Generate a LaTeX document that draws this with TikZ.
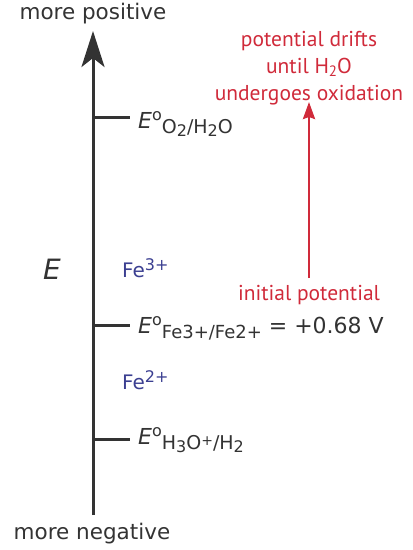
\documentclass[tikz,border=0pt]{standalone}
\usepackage{fontspec}
\setmainfont{DejaVu Sans}
\newfontfamily\redfont{PT Sans}
\usetikzlibrary{arrows.meta}
\definecolor{axisgray}{HTML}{333333}
\definecolor{labred}{HTML}{D02A3A}
\definecolor{ionblue}{HTML}{3B3F91}
\newcommand\fsz[1]{\fontsize{#1}{#1}\selectfont}
\newcommand\Eo{{\fsz{22}\itshape E}\raisebox{7.5pt}{\fsz{16}o}}
\newcommand\lowsub[2][19]{\raisebox{-5pt}{\fsz{#1}#2}}
\newcommand\ssub[1]{\raisebox{-3pt}{\fsz{16}#1}}
\newcommand\ssup[1]{\raisebox{3.5pt}{\fsz{14}#1}}
\tikzset{
  lab/.style={anchor=base west, inner sep=0pt, text=axisgray, font=\fsz{21.5}},
  ion/.style={anchor=base west, inner sep=0pt, text=ionblue, font=\fsz{20}},
  rtext/.style={inner sep=0pt, text=labred, font=\redfont\fsz{21.5}},
  tick/.style={draw=axisgray, line width=3pt},
  axis/.style={draw=axisgray, line width=3pt, -{Stealth[length=36pt,width=23pt,inset=9pt]}},
  rarrow/.style={draw=labred, line width=2.6pt, -{Stealth[length=17pt,width=12pt,inset=2pt]}}
}
\begin{document}
\begin{tikzpicture}[x=1pt,y=-1pt]
\useasboundingbox (0,0) rectangle (413,550);
% axis
\coordinate (bot) at (93,515);
\coordinate (top) at (93,31);
\draw[axis] (bot) -- (top);
\node[lab, anchor=base] (pos) at (93,19) {more positive};
\node[lab, anchor=base] (neg) at (92,539) {more negative};
% ticks
\coordinate (t1a) at (93,117); \coordinate (t1b) at (130,117);
\coordinate (t2a) at (93,325); \coordinate (t2b) at (130,325);
\coordinate (t3a) at (93,439); \coordinate (t3b) at (130,439);
\draw[tick] (t1a) -- (t1b);
\draw[tick] (t2a) -- (t2b);
\draw[tick] (t3a) -- (t3b);
% labels
\node[lab] (lo2) at (138,128) {\Eo\lowsub{O\ssub{2}/H\ssub{2}O}};
\node[lab, font=\fsz{22}] (lfe) at (138,333) {\Eo\lowsub[18]{Fe3+/Fe2+} = +0.68 V};
\node[lab] (lh) at (138,444) {\Eo\lowsub{H\ssub{3}O\ssup{+}/H\ssub{2}}};
\node[lab, font=\fsz{28}\itshape] (E) at (43,279) {E};
\node[ion] (fe3) at (122,277) {Fe\raisebox{7pt}{\fsz{16}3+}};
\node[ion] (fe2) at (122,389) {Fe\raisebox{7pt}{\fsz{16}2+}};
% red
\node[rtext, anchor=base] (r1) at (309,46) {potential drifts};
\node[rtext, anchor=base] (r2) at (309,73) {until H\raisebox{-3pt}{\fsz{15}2}O};
\node[rtext, anchor=base] (r3) at (309,100) {undergoes oxidation};
\node[rtext, anchor=base] (init) at (309,300) {initial potential};
\coordinate (rb) at (309,278);
\coordinate (rt) at (309,102);
\draw[rarrow] (rb) -- (rt);
\end{tikzpicture}
\end{document}
